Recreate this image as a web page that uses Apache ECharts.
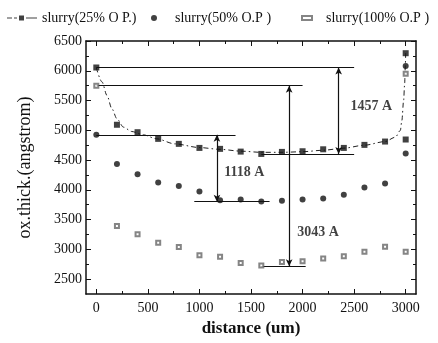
<!DOCTYPE html>
<html>
<head>
<meta charset="utf-8">
<title>ox.thick vs distance</title>
<script src="https://cdn.jsdelivr.net/npm/echarts@6/dist/echarts.min.js"></script>
<style>
  html, body { margin: 0; padding: 0; background: #fff; }
  #chart { width: 438px; height: 343px; }
</style>
</head>
<body>
<div id="chart"></div>
<script>
/* =========================================
   1. DATA
   ========================================= */
const distance = [0, 200, 400, 600, 800, 1000, 1200, 1400, 1600, 1800, 2000, 2200, 2400, 2600, 2800, 3000, 3000];

const slurry25 = [6055, 5093, 4968, 4856, 4772, 4704, 4688, 4642, 4603, 4637, 4648, 4681, 4704, 4755, 4811, 4845, 6295];
const slurry50 = [4924, 4434, 4260, 4124, 4063, 3972, 3826, 3837, 3803, 3815, 3837, 3854, 3916, 4039, 4107, 4610, 6078];
const slurry100 = [5750, 3392, 3252, 3110, 3038, 2902, 2874, 2772, 2730, 2789, 2801, 2847, 2886, 2958, 3043, 2958, 5950];

// dash-dot fit drawn through the 25% points
const fitX = [0, 55, 103, 151, 200, 263, 343, 455, 584, 761, 1000, 1200, 1400, 1600, 1800, 2000, 2200, 2400, 2600, 2800, 2900, 2948, 2963, 2980, 2990, 2996, 3000];
const fitY = [6050, 5813, 5588, 5363, 5194, 5053, 4980, 4924, 4857, 4772, 4710, 4680, 4650, 4630, 4630, 4640, 4665, 4700, 4750, 4811, 4884, 4997, 5166, 5504, 5785, 6066, 6297];

// horizontal guide lines
const guideLevel = [6055, 5750, 4924, 4600, 3800, 2715];
const guideFrom = [0, 0, 0, 1600, 950, 1600];
const guideTo = [2500, 2000, 1350, 2500, 1680, 2030];

// double arrows with their differences
const arrowX = [1170, 1870, 2350];
const arrowTop = [4924, 5750, 6055];
const arrowBottom = [3800, 2715, 4600];
const arrowText = ["1118 A", "3043 A", "1457 A"];
const arrowTextX = [1436, 2150, 2667];
const arrowTextY = [4292, 3279, 5402];

const xMajor = [0, 500, 1000, 1500, 2000, 2500, 3000];
const xMinor = [250, 750, 1250, 1750, 2250, 2750];
const yMajor = [2500, 3000, 3500, 4000, 4500, 5000, 5500, 6000, 6500];
const yMinor = [2750, 3250, 3750, 4250, 4750, 5250, 5750, 6250];

const names = ["slurry(25% O P.)", "slurry(50% O.P )", "slurry(100% O.P )"];

/* =========================================
   2. CHART
   ========================================= */
function pairs(xs, ys) {
  return xs.map((x, i) => [x, ys[i]]);
}

function initChart() {
  const chart = echarts.init(document.getElementById("chart"), null, { renderer: "canvas" });
  const serif = "'Liberation Serif', 'DejaVu Serif', serif";
  const ink = "#111";

  const X_MIN = -100, X_MAX = 3100, Y_MIN = 2250, Y_MAX = 6500;

  function xAx(pos, ticks, len, main) {
    return {
      type: "value", position: pos, min: X_MIN, max: X_MAX,
      axisLine: { show: main, onZero: false, lineStyle: { color: ink, width: 1.5 } },
      axisTick: { show: true, inside: true, length: len, customValues: ticks, lineStyle: { color: ink, width: 1 } },
      axisLabel: { show: false },
      splitLine: { show: false }
    };
  }
  function yAx(pos, ticks, len, main) {
    return {
      type: "value", position: pos, min: Y_MIN, max: Y_MAX,
      axisLine: { show: main, onZero: false, lineStyle: { color: ink, width: 1.5 } },
      axisTick: { show: true, inside: true, length: len, customValues: ticks, lineStyle: { color: ink, width: 1 } },
      axisLabel: { show: false },
      splitLine: { show: false }
    };
  }

  const plain = (v) => String(v);

  const xBottom = xAx("bottom", xMajor, 5, true);
  xBottom.axisLabel = { show: true, customValues: xMajor, formatter: plain, margin: 7, color: ink, fontFamily: serif, fontSize: 14 };
  xBottom.name = "distance (um)";
  xBottom.nameLocation = "middle";
  xBottom.nameGap = 24;
  xBottom.nameTextStyle = { fontFamily: serif, fontSize: 17, fontWeight: "bold", color: ink };

  const yLeft = yAx("left", yMajor, 5, true);
  yLeft.axisLabel = { show: true, customValues: yMajor, formatter: plain, margin: 4, color: ink, fontFamily: serif, fontSize: 14 };
  yLeft.name = "ox.thick.(angstrom)";
  yLeft.nameLocation = "middle";
  yLeft.nameGap = 52;
  yLeft.nameTextStyle = { fontFamily: serif, fontSize: 18, color: ink };

  const markLines = [];
  guideLevel.forEach((v, i) => {
    markLines.push([{ coord: [guideFrom[i], v], symbol: "none" }, { coord: [guideTo[i], v], symbol: "none" }]);
  });
  arrowX.forEach((x, i) => {
    markLines.push([{ coord: [x, arrowTop[i]], symbol: "arrow" }, { coord: [x, arrowBottom[i]], symbol: "arrow" }]);
  });

  const legendText = { fontFamily: serif, fontSize: 14, color: ink };

  const option = {
    backgroundColor: "#fff",
    animation: false,
    grid: { left: 86, right: 22, top: 41, bottom: 49 },
    legend: [
      {
        left: 2, top: 6, itemGap: 0,
        data: [{ name: names[0], icon: "path://M0,4h5v1h-5z M7,4h3v1h-3z M12,2h5v5h-5z M19,4h11v1h-11z" }],
        itemWidth: 30, itemHeight: 5,
        textStyle: Object.assign({ padding: [0, 0, 0, 0] }, legendText)
      },
      {
        left: 146, top: 6,
        data: [{ name: names[1], icon: "circle" }],
        itemWidth: 14, itemHeight: 6,
        textStyle: Object.assign({ padding: [0, 0, 0, 9] }, legendText)
      },
      {
        left: 296, top: 6,
        data: [{ name: names[2], icon: "emptyRect" }],
        itemWidth: 10, itemHeight: 4,
        itemStyle: { borderWidth: 1 },
        textStyle: Object.assign({ padding: [0, 0, 0, 9] }, legendText)
      }
    ],
    xAxis: [
      xBottom,
      xAx("top", xMajor, 5, true),
      xAx("bottom", xMinor, 3, false),
      xAx("top", xMinor, 3, false)
    ],
    yAxis: [
      yLeft,
      yAx("right", yMajor, 5, true),
      yAx("left", yMinor, 3, false),
      yAx("right", yMinor, 3, false)
    ],
    series: [
      {
        name: "fit", type: "line", data: pairs(fitX, fitY),
        symbol: "none", smooth: 0.3, smoothMonotone: "x",
        lineStyle: { color: "#222", width: 1, type: [5, 3, 1.5, 3] },
        silent: true
      },
      {
        name: "guides", type: "line", data: [],
        markLine: {
          silent: true, animation: false,
          symbolSize: [5, 7],
          label: { show: false },
          lineStyle: { color: ink, width: 1.2, type: "solid" },
          data: markLines
        }
      },
      {
        name: names[0], type: "scatter", data: pairs(distance, slurry25),
        symbol: "rect", symbolSize: 6, itemStyle: { color: ink }, z: 5
      },
      {
        name: names[1], type: "scatter", data: pairs(distance, slurry50),
        symbol: "circle", symbolSize: 6, itemStyle: { color: ink }, z: 5
      },
      {
        name: names[2], type: "scatter", data: pairs(distance, slurry100),
        symbol: "emptyRect", symbolSize: 4, itemStyle: { color: "#666", borderWidth: 1 }, z: 5
      },
      {
        name: "notes", type: "scatter", symbolSize: 0, silent: true,
        data: arrowText.map((t, i) => ({ name: t, value: [arrowTextX[i], arrowTextY[i]] })),
        label: {
          show: true, position: "inside", formatter: "{b}",
          fontFamily: serif, fontSize: 14, fontWeight: "bold", color: ink
        }
      }
    ]
  };

  chart.setOption(option);
}

document.addEventListener("DOMContentLoaded", initChart);
</script>
</body>
</html>
